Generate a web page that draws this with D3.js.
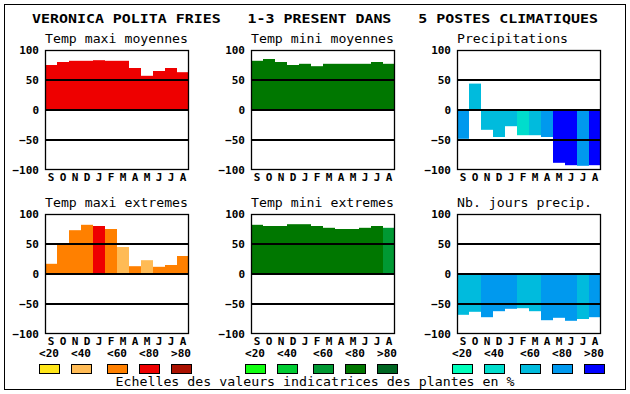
<!DOCTYPE html>
<html>
<head>
<meta charset="utf-8">
<script src="https://cdn.jsdelivr.net/npm/d3@7"></script>
<style>
  body { margin: 0; background: #fff; }
  svg { display: block; }
  text { font-family: "DejaVu Sans Mono", monospace; fill: #000; }
</style>
</head>
<body>
<div id="chart"></div>
<script>
'use strict'
/* Donnees du graphique */
var mois = ['S', 'O', 'N', 'D', 'J', 'F', 'M', 'A', 'M', 'J', 'J', 'A'];
var ticksY = [100, 50, 0, -50, -100];
var classes = ['<20', '<40', '<60', '<80', '>80'];

var tmaxMoy = [75, 80, 82, 82, 83, 82, 82, 70, 57, 65, 70, 63];
var tmaxMoyCl = [3, 3, 3, 3, 3, 3, 3, 3, 3, 3, 3, 3];
var tminMoy = [82, 85, 80, 75, 77, 73, 77, 77, 77, 77, 80, 77];
var tminMoyCl = [3, 3, 3, 3, 3, 3, 3, 3, 3, 3, 3, 3];
var precip = [-48, 44, -33, -45, -27, -42, -42, -45, -88, -92, -93, -92];
var precipCl = [3, 2, 2, 2, 2, 1, 2, 3, 4, 4, 3, 4];
var tmaxExt = [17, 50, 73, 82, 80, 75, 45, 13, 23, 12, 15, 30];
var tmaxExtCl = [2, 2, 2, 2, 3, 2, 1, 2, 1, 2, 2, 2];
var tminExt = [82, 80, 80, 83, 83, 80, 77, 75, 75, 77, 80, 77];
var tminExtCl = [3, 3, 3, 3, 3, 3, 3, 3, 3, 3, 3, 2];
var nbJours = [-68, -63, -72, -62, -58, -57, -62, -77, -73, -78, -75, -72];
var nbJoursCl = [2, 2, 3, 3, 3, 2, 2, 3, 3, 3, 2, 3];

var rouges = ['#ffe619', '#ffbb55', '#ff8000', '#ee0000', '#aa1100'];
var verts = ['#11ff11', '#00cc33', '#009933', '#007700', '#006622'];
var bleus = ['#00ffbb', '#00ddcc', '#00bbdd', '#0099ee', '#0000ff'];

var w = 630;
var h = 394;

var svg = d3.select('#chart').append('svg')
            .attr('width', w)
            .attr('height', h);

// cadre exterieur
svg.append('rect')
   .attr('x', 4.5).attr('y', 4.5)
   .attr('width', 621).attr('height', 385)
   .attr('fill', 'none').attr('stroke', '#000').attr('stroke-width', 1);

// titre
svg.append('text')
   .attr('x', 315).attr('y', 23)
   .attr('text-anchor', 'middle')
   .attr('textLength', 566)
   .attr('lengthAdjust', 'spacingAndGlyphs')
   .style('font-size', '13px')
   .style('font-weight', 'bold')
   .attr('xml:space', 'preserve')
   .text('VERONICA POLITA FRIES   1-3 PRESENT DANS   5 POSTES CLIMATIQUES');

var panneaux = [
  {titre: 'Temp maxi moyennes', val: tmaxMoy, cl: tmaxMoyCl, pal: rouges, x: 45, y: 50},
  {titre: 'Temp mini moyennes', val: tminMoy, cl: tminMoyCl, pal: verts, x: 251, y: 50},
  {titre: 'Precipitations', val: precip, cl: precipCl, pal: bleus, x: 457, y: 50},
  {titre: 'Temp maxi extremes', val: tmaxExt, cl: tmaxExtCl, pal: rouges, x: 45, y: 214},
  {titre: 'Temp mini extremes', val: tminExt, cl: tminExtCl, pal: verts, x: 251, y: 214},
  {titre: 'Nb. jours precip.', val: nbJours, cl: nbJoursCl, pal: bleus, x: 457, y: 214}
];

var pw = 144;
var ph = 120;

var xScale = d3.scaleBand().domain(d3.range(mois.length)).range([0, pw]).padding(0);
var yScale = d3.scaleLinear().domain([-100, 100]).range([ph, 0]);

panneaux.forEach(function(p) {
  var g = svg.append('g').attr('transform', 'translate(' + p.x + ',' + p.y + ')');

  g.append('text')
   .attr('x', 0).attr('y', -7)
   .attr('textLength', p.titre.length * 8 - 1)
   .attr('lengthAdjust', 'spacingAndGlyphs')
   .style('font-size', '13px')
   .text(p.titre);

  // barres
  g.selectAll('rect.barre')
   .data(p.val)
   .enter()
   .append('rect')
   .attr('class', 'barre')
   .attr('x', (d, i) => xScale(i))
   .attr('y', (d) => yScale(Math.max(d, 0)))
   .attr('width', xScale.bandwidth())
   .attr('height', (d) => Math.abs(yScale(d) - yScale(0)))
   .attr('fill', (d, i) => p.pal[p.cl[i]]);

  // lignes 50 / 0 / -50
  g.selectAll('line.grille')
   .data([50, 0, -50])
   .enter()
   .append('line')
   .attr('x1', 0).attr('x2', pw)
   .attr('y1', (d) => yScale(d)).attr('y2', (d) => yScale(d))
   .attr('stroke', '#000').attr('stroke-width', 2);

  g.append('rect')
   .attr('x', 0.5).attr('y', 0.5)
   .attr('width', pw - 1).attr('height', ph - 1)
   .attr('fill', 'none').attr('stroke', '#000').attr('stroke-width', 1.3);

  // axe vertical
  var axeY = g.append('g')
              .call(d3.axisLeft(yScale).tickValues(ticksY).tickSize(0).tickPadding(6).tickFormat(d3.format('d')));
  axeY.select('.domain').remove();
  axeY.selectAll('text')
      .attr('font-family', null)
      .style('font-size', '11px')
      .style('font-weight', 'bold')
      .attr('dy', '0.36em');

  // mois
  var axeX = g.append('g')
              .attr('transform', 'translate(0,' + ph + ')')
              .call(d3.axisBottom(xScale).tickSize(0).tickPadding(3).tickFormat((d) => mois[d]));
  axeX.select('.domain').remove();
  axeX.selectAll('text')
      .attr('font-family', null)
      .style('font-size', '11px')
      .style('font-weight', 'bold');
});

// legendes
var decal = [0, 32, 68, 100, 132];
[{pal: rouges, x: 39}, {pal: verts, x: 245}, {pal: bleus, x: 452}].forEach(function(l) {
  var g = svg.append('g').attr('transform', 'translate(' + l.x + ',0)');
  g.selectAll('text')
   .data(classes)
   .enter()
   .append('text')
   .attr('x', (d, i) => decal[i])
   .attr('y', 357)
   .attr('textLength', 20)
   .attr('lengthAdjust', 'spacingAndGlyphs')
   .style('font-size', '11px')
   .style('font-weight', 'bold')
   .text((d) => d);
  g.selectAll('rect')
   .data(l.pal)
   .enter()
   .append('rect')
   .attr('x', (d, i) => decal[i] + 0.5)
   .attr('y', 364.5)
   .attr('width', 20).attr('height', 9)
   .attr('fill', (d) => d)
   .attr('stroke', '#000').attr('stroke-width', 1);
});

svg.append('text')
   .attr('x', 315).attr('y', 386)
   .attr('text-anchor', 'middle')
   .attr('textLength', 399)
   .attr('lengthAdjust', 'spacingAndGlyphs')
   .style('font-size', '13px')
   .text('Echelles des valeurs indicatrices des plantes en %');
</script>
</body>
</html>
